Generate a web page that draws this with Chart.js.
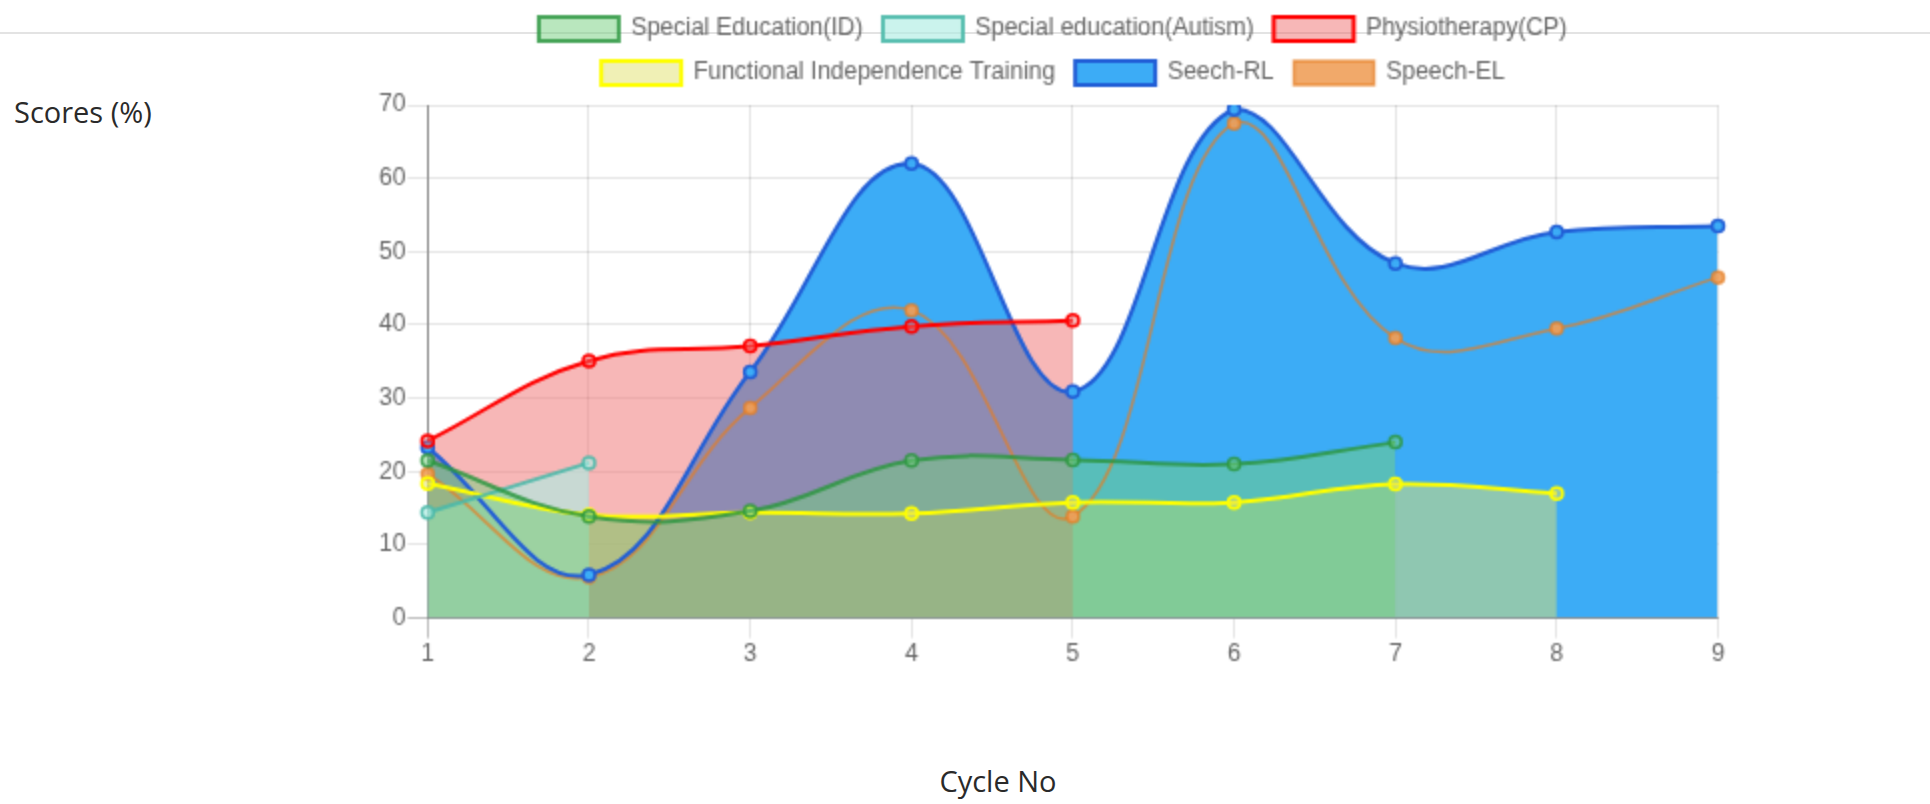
<!DOCTYPE html>
<html>
<head>
<meta charset="utf-8">
<script src="https://cdn.jsdelivr.net/npm/chart.js@4.4.0/dist/chart.umd.min.js"></script>
<style>
  html, body { margin: 0; padding: 0; background: #fff; }
  body { width: 1930px; height: 804px; position: relative; overflow: hidden; font-family: "Open Sans", sans-serif; color: #2a2a2a; }
  .rule { position: absolute; left: 0; top: 32px; width: 1930px; height: 2px; background: #e3e3e3; }
  .ylabel { position: absolute; left: 14px; top: 97px; font-size: 29px; line-height: 29px; white-space: nowrap; }
  .xlabel { position: absolute; left: 798px; top: 766px; width: 400px; text-align: center; font-size: 29px; line-height: 29px; }
  /* chart is drawn at 1x and stretched 2x, like the original screenshot */
  #chart { position: absolute; left: 377px; top: -3px; width: 1352px !important; height: 674px !important; }
</style>
</head>
<body>
<div class="rule"></div>
<div class="ylabel">Scores (%)</div>
<div class="xlabel">Cycle No</div>
<canvas id="chart" width="676" height="337"></canvas>
<script>
const cycles = ["1", "2", "3", "4", "5", "6", "7", "8", "9"];
const specialEdId = [21.5, 13.9, 14.6, 21.5, 21.6, 21.0, 24.0];
const specialEdAutism = [14.4, 21.2];
const physioCp = [24.2, 35.1, 37.1, 39.8, 40.6];
const functionalTraining = [18.4, 14.1, 14.4, 14.3, 15.8, 15.8, 18.3, 17.0];
const speechRl = [23.3, 5.9, 33.6, 62.0, 30.9, 69.4, 48.4, 52.7, 53.5];
const speechEl = [19.7, 5.6, 28.7, 42.0, 13.9, 67.5, 38.2, 39.5, 46.5];
const yTicks = [0, 10, 20, 30, 40, 50, 60, 70];

const axisGrid = (c) => (c.index === 0 ? "rgba(0,0,0,0.25)" : "rgba(0,0,0,0.1)");

const ctx = document.getElementById("chart");
const myChart = new Chart(ctx, {
  type: "line",
  data: {
    labels: cycles,
    datasets: [
      {
        label: "Special Education(ID)",
        data: specialEdId,
        backgroundColor: "rgba(115, 207, 125, 0.5)",
        borderColor: "rgba(45, 150, 65, 0.85)",
        fill: "origin",
      },
      {
        label: "Special education(Autism)",
        data: specialEdAutism,
        backgroundColor: "rgba(175, 236, 228, 0.65)",
        borderColor: "rgba(75, 185, 170, 0.9)",
        fill: "origin",
      },
      {
        label: "Physiotherapy(CP)",
        data: physioCp,
        backgroundColor: "rgba(238, 101, 101, 0.47)",
        borderColor: "rgb(255, 0, 0)",
        fill: "origin",
      },
      {
        label: "Functional Independence Training",
        data: functionalTraining,
        backgroundColor: "rgba(226, 226, 107, 0.5)",
        borderColor: "rgb(255, 255, 0)",
        fill: "origin",
      },
      {
        label: "Seech-RL",
        data: speechRl,
        backgroundColor: "rgb(60, 172, 246)",
        borderColor: "rgb(33, 94, 214)",
        fill: "origin",
      },
      {
        label: "Speech-EL",
        data: speechEl,
        backgroundColor: "rgba(240, 160, 90, 0.9)",
        borderColor: "rgba(230, 126, 34, 0.7)",
        borderWidth: 1.5,
        fill: false,
      },
    ],
  },
  options: {
    responsive: false,
    devicePixelRatio: 1,
    animation: false,
    font: { family: "'Liberation Sans', Arial, sans-serif", size: 12 },
    color: "#666",
    elements: {
      line: { tension: 0.4, borderWidth: 2 },
      point: { radius: 3, borderWidth: 1.5 },
    },
    scales: {
      x: {
        grid: { color: axisGrid, tickLength: 10 },
        border: { color: "rgba(0,0,0,0.25)" },
        ticks: { color: "#666", padding: 1 },
      },
      y: {
        min: yTicks[0],
        max: yTicks[yTicks.length - 1],
        grid: { color: axisGrid, tickLength: 10 },
        border: { color: "rgba(0,0,0,0.25)" },
        ticks: { color: "#666", stepSize: 10, padding: 1 },
      },
    },
    plugins: {
      filler: { drawTime: "beforeDatasetsDraw" },
      legend: {
        labels: { color: "#666", boxWidth: 40, padding: 10 },
      },
      tooltip: { enabled: false },
    },
  },
});
</script>
</body>
</html>
